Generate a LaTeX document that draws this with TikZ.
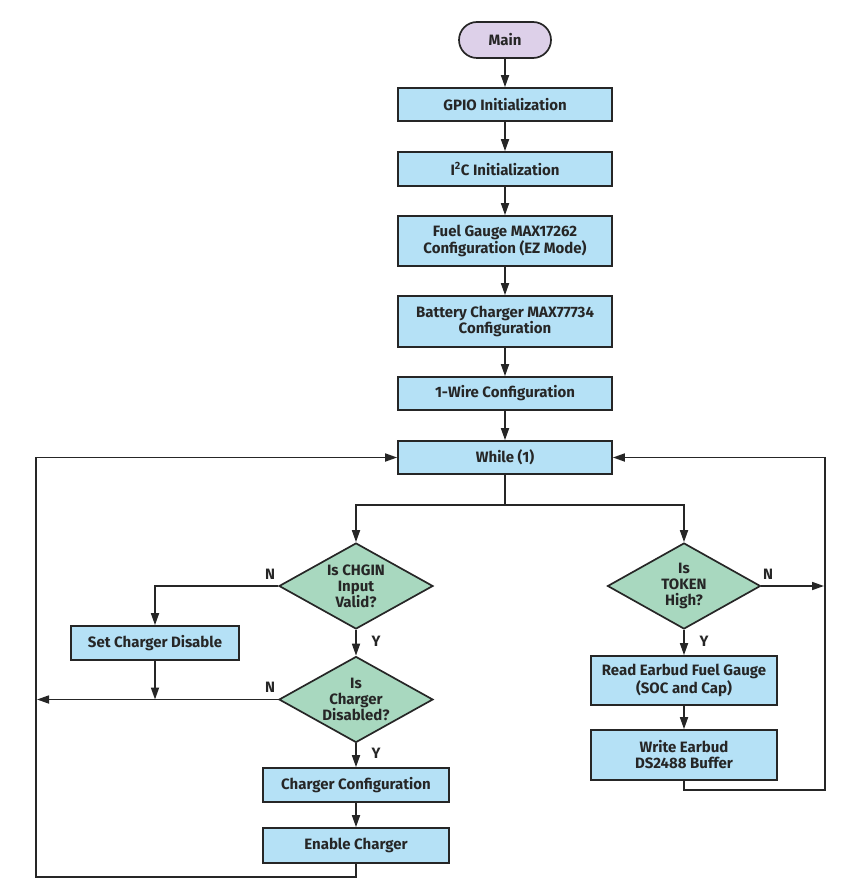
\documentclass[tikz,border=0pt]{standalone}
\usepackage{fontspec}
\setmainfont{Fira Sans}
\usetikzlibrary{arrows.meta,shapes.geometric}
\definecolor{boxfill}{HTML}{B5E1F6}
\definecolor{decfill}{HTML}{A8D8BF}
\definecolor{termfill}{HTML}{DDD0E9}
\definecolor{edge}{HTML}{262626}
\begin{document}
\begin{tikzpicture}[x=1pt,y=-1pt,
  every node/.style={font=\bfseries\fontsize{15}{16}\selectfont, text=edge},
  proc/.style={draw=edge, line width=1.7pt, fill=boxfill, rectangle, inner sep=0pt, align=center},
  dec/.style={draw=edge, line width=1.7pt, fill=decfill, diamond, aspect=1.8, inner sep=0pt, align=center, minimum width=154pt, minimum height=86pt},
  term/.style={draw=edge, line width=1.7pt, fill=termfill, rounded corners=18pt, inner sep=0pt, minimum width=92pt, minimum height=36pt},
  flow/.style={draw=edge, line width=1.7pt, -{Triangle[length=12pt,width=8pt]}},
  line/.style={draw=edge, line width=1.7pt},
  lab/.style={font=\bfseries\fontsize{15}{16}\selectfont, inner sep=0pt}
]
\useasboundingbox (0,0) rectangle (848,893);

\node[term] (main) at (505,40) {Main};
\node[proc, minimum width=214pt, minimum height=33pt] (gpio) at (505,104.5) {GPIO Initialization};
\node[proc, minimum width=214pt, minimum height=34pt] (i2c) at (505,169) {I\textsuperscript{2}C Initialization};
\node[proc, minimum width=214pt, minimum height=50pt] (fuel) at (505,241) {Fuel Gauge MAX17262\\Configuration (EZ Mode)};
\node[proc, minimum width=214pt, minimum height=51pt] (batt) at (505,321.5) {Battery Charger MAX77734\\Configuration};
\node[proc, minimum width=214pt, minimum height=33pt] (wire) at (505,393.5) {1-Wire Configuration};
\node[proc, minimum width=214pt, minimum height=33pt] (while) at (505,457.5) {While (1)};

\node[dec] (chg) at (356,586) {Is CHGIN\\Input\\Valid?};
\node[dec] (dis) at (356,699.5) {Is\\Charger\\Disabled?};
\node[proc, minimum width=168pt, minimum height=34pt] (scd) at (155,643) {Set Charger Disable};
\node[proc, minimum width=186pt, minimum height=34pt] (cc) at (356,785) {Charger Configuration};
\node[proc, minimum width=186pt, minimum height=35pt] (en) at (356,845.5) {Enable Charger};

\node[dec, minimum width=153pt] (tok) at (684,586) {Is\\TOKEN\\High?};
\node[proc, minimum width=186pt, minimum height=49pt] (read) at (684,680.5) {Read Earbud Fuel Gauge\\(SOC and Cap)};
\node[proc, minimum width=186pt, minimum height=50pt] (write) at (684,755) {Write Earbud\\DS2488 Buffer};

\coordinate (split) at (505,505);
\coordinate (lj) at (37,699.5);
\coordinate (scdj) at (155,699.5);
\coordinate (bl) at (36,877);
\coordinate (rj) at (824,586);
\coordinate (br) at (825,790);

\draw[flow] (main) -- (gpio);
\draw[flow] (gpio) -- (i2c);
\draw[flow] (i2c) -- (fuel);
\draw[flow] (fuel) -- (batt);
\draw[flow] (batt) -- (wire);
\draw[flow] (wire) -- (while);

\draw[line] (while.south) -- (split);
\draw[flow] (split) -| (chg.north);
\draw[flow] (split) -| (tok.north);

\draw[flow] (chg.west) -| (scd.north);
\node[lab] (n1) at (270,574) {N};
\draw[flow] (chg.south) -- (dis.north);
\node[lab] (y1) at (376,641) {Y};
\draw[flow] (scd.south) -- (scdj);
\draw[flow] (dis.west) -- (lj);
\node[lab] (n2) at (270,687) {N};
\draw[flow] (dis.south) -- (cc.north);
\node[lab] (y2) at (376,753) {Y};
\draw[flow] (cc) -- (en);
\draw[flow] (en.south) |- (bl) |- (while.west);

\draw[flow] (tok.east) -- (rj);
\node[lab] (n3) at (768,574) {N};
\draw[flow] (tok.south) -- (read.north);
\node[lab] (y3) at (704,641) {Y};
\draw[flow] (read) -- (write);
\draw[flow] (write.south) |- (br) |- (while.east);
\end{tikzpicture}
\end{document}
